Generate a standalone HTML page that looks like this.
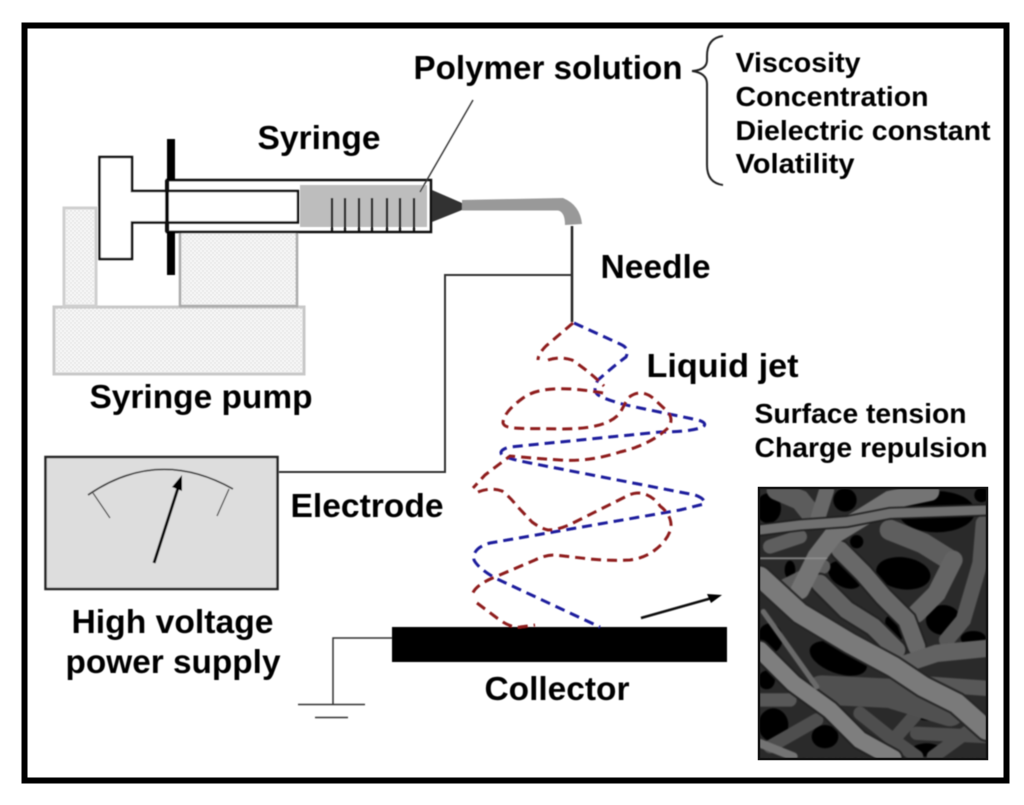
<!DOCTYPE html>
<html><head><meta charset="utf-8"><style>
html,body{margin:0;padding:0;background:#fff;width:1024px;height:805px;overflow:hidden}
svg{display:block}
text{font-family:"Liberation Sans",Arial,sans-serif;font-weight:bold;fill:#000}
</style></head><body>
<svg width="1024" height="805" viewBox="0 0 1024 805" xmlns="http://www.w3.org/2000/svg">
<defs>
<pattern id="d" width="4" height="4" patternUnits="userSpaceOnUse"><rect width="4" height="4" fill="#f8f8f8"/><circle cx="1" cy="1" r=".7" fill="#d0d0d0"/><circle cx="3" cy="3" r=".7" fill="#d0d0d0"/></pattern>
<filter id="b" x="-2%" y="-2%" width="104%" height="104%"><feGaussianBlur stdDeviation="0.5"/></filter>
<filter id="t" x="-2%" y="-10%" width="104%" height="120%"><feGaussianBlur stdDeviation="0.45"/></filter>
<filter id="p" x="0" y="0" width="100%" height="100%" color-interpolation-filters="sRGB"><feGaussianBlur in="SourceGraphic" stdDeviation="2.5" result="s"/><feTurbulence type="fractalNoise" baseFrequency="0.09" numOctaves="2" seed="4"/><feColorMatrix type="matrix" values="0 0 0 0 .5 0 0 0 0 .5 0 0 0 0 .5 1.2 0 0 0 -.2"/><feGaussianBlur stdDeviation="1"/><feBlend in2="s" mode="soft-light"/></filter>
<clipPath id="c"><rect x="30" y="25" width="680" height="810"/></clipPath>
</defs>
<rect width="1024" height="805" fill="#fff"/>
<rect x="24.500" y="25.500" width="982" height="755" fill="none" stroke="#000" stroke-width="6"/>
<g filter="url(#b)">
<rect x="54" y="307" width="250" height="67" fill="url(#d)" stroke="#c8c8c8" stroke-width="3"/>
<rect x="64" y="208" width="32" height="98" fill="url(#d)" stroke="#cfcfcf" stroke-width="3"/>
<rect x="180" y="232" width="117" height="74" fill="url(#d)" stroke="#aaa" stroke-width="2.500"/>
<rect x="300" y="185" width="127" height="42" fill="#bdbdbd"/>
<rect x="167" y="180" width="264" height="52" fill="none" stroke="#111" stroke-width="2.500"/>
<path d="M132 157H99.500V259H132V222.500H298V191H132Z" fill="#fff" stroke="#111" stroke-width="2.500"/>
<path d="M167 180V232" stroke="#111" stroke-width="4"/>
<rect x="167" y="139" width="8" height="41" fill="#000"/><rect x="167" y="232" width="8" height="43" fill="#000"/>
<path d="M332 198V232M345 198V232M359 198V232M372 198V232M387 198V232M400 198V232M414 198V232" stroke="#111" stroke-width="2.200"/>
<path d="M473 100L420 192" stroke="#333" stroke-width="1.400"/>
<path d="M432 190L462 203V210L432 222Z" fill="#333"/>
<path d="M462 200L563 198Q580 205 582 224L565 225Q565 212 558 210.500H462Z" fill="#999"/>
<path d="M572 226V322" stroke="#222" stroke-width="2.500" fill="none"/>
<path d="M572 275H445V472H279" stroke="#333" stroke-width="2" fill="none"/>
<rect x="45.500" y="457" width="232" height="132" fill="#ddd" stroke="#222" stroke-width="2.500"/>
<path d="M88 495Q158 447 233 489" fill="none" stroke="#444" stroke-width="1.800"/>
<path d="M93 493L110 518M229 489L217 516" stroke="#555" stroke-width="1.400"/>
<path d="M154 563L178 488" stroke="#111" stroke-width="3"/>
<path d="M182 475L182 491L172 487Z" fill="#000"/>
<rect x="392" y="627" width="335" height="35" fill="#000"/>
<path d="M392 638H333V704M298 704.500H365M315 717.500H348" fill="none" stroke="#333" stroke-width="1.500"/>
<path d="M641 618L712 598" stroke="#111" stroke-width="2.500"/>
<path d="M722 595L707 594L711 603Z" fill="#000"/>
<g fill="none" stroke-width="3" stroke-dasharray="10 6">
<path stroke="#1c1c9c" d="M574 323L620 344Q630 348 626 357Q615 365 598 380Q592 390 598 395Q610 402 640 408L698 420Q708 423 703 427Q690 432 660 432L510 447Q498 450 502 455Q505 458 530 463L695 495Q706 499 704 504L680 510L490 543Q472 548 474 560Q478 568 495 578L600 627"/>
<path stroke="#8e1c1c" d="M573 323L546 346Q538 354 538 360M548 360Q560 356 572 360Q590 372 604 386M603 393C575 388 540 385 523 398C512 406 503 415 503 423C505 430 520 428 560 429C590 429 610 425 620 413L628 398Q640 388 653 398L668 412Q674 420 668 428Q650 445 620 452Q590 462 560 460Q530 458 510 456L485 475L473 488M478 492Q490 487 502 491Q510 497 516 505L532 522Q540 528 548 530Q560 530 575 522L625 497Q635 491 645 494Q655 498 660 506Q672 515 671 528Q668 540 655 550Q645 558 630 560Q610 561 590 559L555 555Q545 555 535 560L495 577Q475 585 472 595M477 603L497 618Q510 628 520 627L535 625"/>
</g>
<path d="M723 36Q707 38 707 56V60Q707 70 692 71Q707 73 707 84V165Q707 183 723 185" fill="none" stroke="#222" stroke-width="2"/>
</g>
<rect x="758" y="487" width="230" height="273" fill="#333"/>
<g transform="translate(750 480) scale(.3333)" clip-path="url(#c)">
<g filter="url(#p)">
<rect x="28" y="25" width="688" height="810" fill="#2a2a2a"/>
<g fill="#000">
<ellipse cx="55" cy="85" rx="38" ry="45"/><ellipse cx="285" cy="285" rx="55" ry="36" transform="rotate(30 285 285)"/><ellipse cx="460" cy="280" rx="82" ry="48" transform="rotate(8 460 280)"/><ellipse cx="580" cy="420" rx="52" ry="45"/><ellipse cx="432" cy="445" rx="20" ry="40" transform="rotate(-30 432 445)"/><ellipse cx="560" cy="95" rx="115" ry="62"/><ellipse cx="265" cy="535" rx="90" ry="45" transform="rotate(20 265 535)"/><ellipse cx="60" cy="475" rx="38" ry="45"/><ellipse cx="670" cy="475" rx="38" ry="22"/><ellipse cx="70" cy="735" rx="45" ry="50"/><ellipse cx="50" cy="600" rx="25" ry="28"/><ellipse cx="285" cy="60" rx="35" ry="35"/><ellipse cx="225" cy="770" rx="40" ry="35"/><ellipse cx="530" cy="810" rx="45" ry="20"/><ellipse cx="695" cy="45" rx="22" ry="22"/><ellipse cx="320" cy="185" rx="20" ry="20"/><ellipse cx="540" cy="710" rx="40" ry="12"/><ellipse cx="120" cy="270" rx="16" ry="28"/></g>
<g fill="none" stroke-linecap="round">
<path d="M420 150L520 190L600 240" stroke="#5e5e5e" stroke-width="62"/>
<path d="M700 130L690 250L640 420L590 480" stroke="#585858" stroke-width="46"/>
<path d="M610 240L560 340L500 400" stroke="#646464" stroke-width="56"/>
<path d="M330 700L430 780L500 830M430 780L500 700M500 760L710 770M550 830L660 750M60 800L200 720" stroke="#4e4e4e" stroke-width="40"/>
<path d="M80 30L150 60L190 110" stroke="#5c5c5c" stroke-width="60"/>
<path d="M230 30L205 110" stroke="#686868" stroke-width="45"/>
<path d="M60 200L150 170M100 320L220 260" stroke="#5e5e5e" stroke-width="42"/>
<path d="M210 310L290 390L370 440L440 510" stroke="#222" stroke-width="64"/>
<path d="M210 310L290 390L370 440L440 510" stroke="#626262" stroke-width="52"/>
<path d="M270 210L340 280L400 350L470 420L500 500" stroke="#222" stroke-width="64"/>
<path d="M270 210L340 280L400 350L470 420L500 500" stroke="#686868" stroke-width="52"/>
<path d="M150 330L200 230L250 165L340 110L420 60L540 35" stroke="#747474" stroke-width="56"/>
<path d="M30 150L150 135L290 125L420 100L710 90" stroke="#1e1e1e" stroke-width="38"/>
<path d="M30 150L150 135L290 125L420 100L710 90" stroke="#707070" stroke-width="28"/>
<path d="M30 235H230" stroke="#909090" stroke-width="5"/>
<path d="M470 550L560 520L710 505" stroke="#626262" stroke-width="52"/>
<path d="M500 610L710 625" stroke="#585858" stroke-width="46"/>
<path d="M30 660L120 660" stroke="#585858" stroke-width="40"/>
<path d="M215 630L420 640L600 695" stroke="#505050" stroke-width="88"/>
<path d="M30 290L150 400L300 490L430 560L520 620L620 670L710 750" stroke="#252525" stroke-width="72"/>
<path d="M30 290L150 400L300 490L430 560L520 620L620 670L710 750" stroke="#7a7a7a" stroke-width="60"/>
<path d="M30 510L130 610L240 690L330 780L430 835" stroke="#222" stroke-width="62"/>
<path d="M30 510L130 610L240 690L330 780L430 835" stroke="#7e7e7e" stroke-width="50"/>
<path d="M30 790L130 830" stroke="#747474" stroke-width="26"/>
<path d="M40 395L200 620" stroke="#6a6a6a" stroke-width="16"/>
</g>
</g>
</g>
<rect x="759" y="488" width="228" height="271" fill="none" stroke="#111" stroke-width="2.500"/>
<g filter="url(#t)">
<text x="413.500" y="79" font-size="33" textLength="269" lengthAdjust="spacingAndGlyphs">Polymer solution</text>
<text x="735.500" y="72" font-size="28" textLength="125" lengthAdjust="spacingAndGlyphs">Viscosity</text>
<text x="735.500" y="106" font-size="28" textLength="193" lengthAdjust="spacingAndGlyphs">Concentration</text>
<text x="735.500" y="140" font-size="28" textLength="255" lengthAdjust="spacingAndGlyphs">Dielectric constant</text>
<text x="735.500" y="173" font-size="28" textLength="119" lengthAdjust="spacingAndGlyphs">Volatility</text>
<text x="257.500" y="149" font-size="33" textLength="123" lengthAdjust="spacingAndGlyphs">Syringe</text>
<text x="600.500" y="278" font-size="33" textLength="110" lengthAdjust="spacingAndGlyphs">Needle</text>
<text x="646.500" y="377" font-size="33" textLength="152" lengthAdjust="spacingAndGlyphs">Liquid jet</text>
<text x="754.500" y="423" font-size="28" textLength="212" lengthAdjust="spacingAndGlyphs">Surface tension</text>
<text x="754.500" y="457" font-size="28" textLength="233" lengthAdjust="spacingAndGlyphs">Charge repulsion</text>
<text x="89.500" y="408" font-size="33" textLength="223" lengthAdjust="spacingAndGlyphs">Syringe pump</text>
<text x="290.500" y="517" font-size="33" textLength="153" lengthAdjust="spacingAndGlyphs">Electrode</text>
<text x="71.500" y="633" font-size="33" textLength="202" lengthAdjust="spacingAndGlyphs">High voltage</text>
<text x="65.500" y="673" font-size="33" textLength="215" lengthAdjust="spacingAndGlyphs">power supply</text>
<text x="484.500" y="700" font-size="33" textLength="145" lengthAdjust="spacingAndGlyphs">Collector</text>
</g>
</svg>
</body></html>
